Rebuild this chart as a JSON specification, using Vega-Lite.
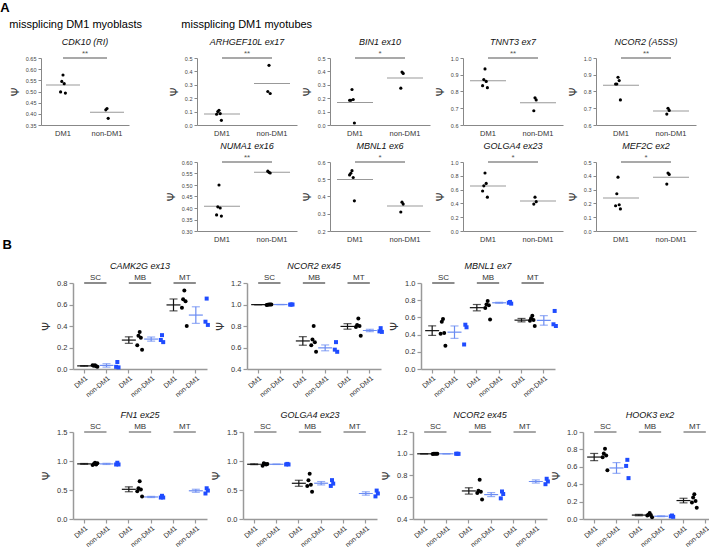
{
"$schema": "https://vega.github.io/schema/vega-lite/v6.json",
"padding": {"left": 0, "top": 2, "right": 2, "bottom": 2},
"background": "white",
"config": {"view": {"stroke": null}, "font": "Liberation Sans", "title": {"font": "Liberation Sans", "fontSize": 9, "fontStyle": "italic", "fontWeight": "normal", "color": "#111"}, "axis": {"labelOverlap": false}},
"datasets": {
"A": [
{"p":"CDK10","g":"DM1","r":1,"v":0.574},{"p":"CDK10","g":"DM1","r":2,"v":0.545},{"p":"CDK10","g":"DM1","r":3,"v":0.535},{"p":"CDK10","g":"DM1","r":4,"v":0.498},{"p":"CDK10","g":"DM1","r":5,"v":0.493},
{"p":"CDK10","g":"non-DM1","r":1,"v":0.424},{"p":"CDK10","g":"non-DM1","r":2,"v":0.418},{"p":"CDK10","g":"non-DM1","r":3,"v":0.38},
{"p":"ARHGEF10L","g":"DM1","r":1,"v":0.11},{"p":"ARHGEF10L","g":"DM1","r":2,"v":0.1},{"p":"ARHGEF10L","g":"DM1","r":3,"v":0.085},{"p":"ARHGEF10L","g":"DM1","r":4,"v":0.08},{"p":"ARHGEF10L","g":"DM1","r":5,"v":0.035},
{"p":"ARHGEF10L","g":"non-DM1","r":1,"v":0.445},{"p":"ARHGEF10L","g":"non-DM1","r":2,"v":0.25},{"p":"ARHGEF10L","g":"non-DM1","r":3,"v":0.235},
{"p":"BIN1","g":"DM1","r":1,"v":0.265},{"p":"BIN1","g":"DM1","r":2,"v":0.185},{"p":"BIN1","g":"DM1","r":3,"v":0.19},{"p":"BIN1","g":"DM1","r":4,"v":0.185},{"p":"BIN1","g":"DM1","r":5,"v":0.015},
{"p":"BIN1","g":"non-DM1","r":1,"v":0.395},{"p":"BIN1","g":"non-DM1","r":2,"v":0.275},{"p":"BIN1","g":"non-DM1","r":3,"v":0.385},
{"p":"TNNT3","g":"DM1","r":1,"v":0.935},{"p":"TNNT3","g":"DM1","r":2,"v":0.871},{"p":"TNNT3","g":"DM1","r":3,"v":0.86},{"p":"TNNT3","g":"DM1","r":4,"v":0.835},{"p":"TNNT3","g":"DM1","r":5,"v":0.823},
{"p":"TNNT3","g":"non-DM1","r":1,"v":0.762},{"p":"TNNT3","g":"non-DM1","r":2,"v":0.685},{"p":"TNNT3","g":"non-DM1","r":3,"v":0.75},
{"p":"NCOR2","g":"DM1","r":1,"v":0.885},{"p":"NCOR2","g":"DM1","r":2,"v":0.845},{"p":"NCOR2","g":"DM1","r":3,"v":0.865},{"p":"NCOR2","g":"DM1","r":4,"v":0.845},{"p":"NCOR2","g":"DM1","r":5,"v":0.75},
{"p":"NCOR2","g":"non-DM1","r":1,"v":0.7},{"p":"NCOR2","g":"non-DM1","r":2,"v":0.665},{"p":"NCOR2","g":"non-DM1","r":3,"v":0.687},
{"p":"NUMA1","g":"DM1","r":1,"v":0.5},{"p":"NUMA1","g":"DM1","r":2,"v":0.405},{"p":"NUMA1","g":"DM1","r":3,"v":0.4},{"p":"NUMA1","g":"DM1","r":4,"v":0.37},{"p":"NUMA1","g":"DM1","r":5,"v":0.365},
{"p":"NUMA1","g":"non-DM1","r":1,"v":0.555},{"p":"NUMA1","g":"non-DM1","r":2,"v":0.56},{"p":"NUMA1","g":"non-DM1","r":3,"v":0.552},
{"p":"MBNL1","g":"DM1","r":1,"v":0.55},{"p":"MBNL1","g":"DM1","r":2,"v":0.535},{"p":"MBNL1","g":"DM1","r":3,"v":0.51},{"p":"MBNL1","g":"DM1","r":4,"v":0.525},{"p":"MBNL1","g":"DM1","r":5,"v":0.375},
{"p":"MBNL1","g":"non-DM1","r":1,"v":0.367},{"p":"MBNL1","g":"non-DM1","r":2,"v":0.31},{"p":"MBNL1","g":"non-DM1","r":3,"v":0.356},
{"p":"GOLGA4","g":"DM1","r":1,"v":0.84},{"p":"GOLGA4","g":"DM1","r":2,"v":0.655},{"p":"GOLGA4","g":"DM1","r":3,"v":0.69},{"p":"GOLGA4","g":"DM1","r":4,"v":0.58},{"p":"GOLGA4","g":"DM1","r":5,"v":0.49},
{"p":"GOLGA4","g":"non-DM1","r":1,"v":0.49},{"p":"GOLGA4","g":"non-DM1","r":2,"v":0.39},{"p":"GOLGA4","g":"non-DM1","r":3,"v":0.425},
{"p":"MEF2C","g":"DM1","r":1,"v":0.39},{"p":"MEF2C","g":"DM1","r":2,"v":0.27},{"p":"MEF2C","g":"DM1","r":3,"v":0.19},{"p":"MEF2C","g":"DM1","r":4,"v":0.183},{"p":"MEF2C","g":"DM1","r":5,"v":0.16},
{"p":"MEF2C","g":"non-DM1","r":1,"v":0.42},{"p":"MEF2C","g":"non-DM1","r":2,"v":0.34},{"p":"MEF2C","g":"non-DM1","r":3,"v":0.41}
],
"B": [
{"p":"CAMK2G","c":"SC|DM1","g":"DM1","r":1,"v":0.035},{"p":"CAMK2G","c":"SC|DM1","g":"DM1","r":2,"v":0.03},{"p":"CAMK2G","c":"SC|DM1","g":"DM1","r":3,"v":0.025},{"p":"CAMK2G","c":"SC|DM1","g":"DM1","r":4,"v":0.035},{"p":"CAMK2G","c":"SC|DM1","g":"DM1","r":5,"v":0.02},
{"p":"CAMK2G","c":"SC|non-DM1","g":"non-DM1","r":1,"v":0.065},{"p":"CAMK2G","c":"SC|non-DM1","g":"non-DM1","r":2,"v":0.02},{"p":"CAMK2G","c":"SC|non-DM1","g":"non-DM1","r":3,"v":0.015},
{"p":"CAMK2G","c":"MB|DM1","g":"DM1","r":1,"v":0.345},{"p":"CAMK2G","c":"MB|DM1","g":"DM1","r":2,"v":0.31},{"p":"CAMK2G","c":"MB|DM1","g":"DM1","r":3,"v":0.29},{"p":"CAMK2G","c":"MB|DM1","g":"DM1","r":4,"v":0.22},{"p":"CAMK2G","c":"MB|DM1","g":"DM1","r":5,"v":0.18},
{"p":"CAMK2G","c":"MB|non-DM1","g":"non-DM1","r":1,"v":0.315},{"p":"CAMK2G","c":"MB|non-DM1","g":"non-DM1","r":2,"v":0.27},{"p":"CAMK2G","c":"MB|non-DM1","g":"non-DM1","r":3,"v":0.25},
{"p":"CAMK2G","c":"MT|DM1","g":"DM1","r":1,"v":0.73},{"p":"CAMK2G","c":"MT|DM1","g":"DM1","r":2,"v":0.65},{"p":"CAMK2G","c":"MT|DM1","g":"DM1","r":3,"v":0.63},{"p":"CAMK2G","c":"MT|DM1","g":"DM1","r":4,"v":0.57},{"p":"CAMK2G","c":"MT|DM1","g":"DM1","r":5,"v":0.4},
{"p":"CAMK2G","c":"MT|non-DM1","g":"non-DM1","r":1,"v":0.655},{"p":"CAMK2G","c":"MT|non-DM1","g":"non-DM1","r":2,"v":0.44},{"p":"CAMK2G","c":"MT|non-DM1","g":"non-DM1","r":3,"v":0.41},
{"p":"NCOR2a","c":"SC|DM1","g":"DM1","r":1,"v":1.0},{"p":"NCOR2a","c":"SC|DM1","g":"DM1","r":2,"v":0.998},{"p":"NCOR2a","c":"SC|DM1","g":"DM1","r":3,"v":1.0},{"p":"NCOR2a","c":"SC|DM1","g":"DM1","r":4,"v":0.996},{"p":"NCOR2a","c":"SC|DM1","g":"DM1","r":5,"v":1.0},
{"p":"NCOR2a","c":"SC|non-DM1","g":"non-DM1","r":1,"v":1.0},{"p":"NCOR2a","c":"SC|non-DM1","g":"non-DM1","r":2,"v":0.999},{"p":"NCOR2a","c":"SC|non-DM1","g":"non-DM1","r":3,"v":1.0},
{"p":"NCOR2a","c":"MB|DM1","g":"DM1","r":1,"v":0.8},{"p":"NCOR2a","c":"MB|DM1","g":"DM1","r":2,"v":0.675},{"p":"NCOR2a","c":"MB|DM1","g":"DM1","r":3,"v":0.65},{"p":"NCOR2a","c":"MB|DM1","g":"DM1","r":4,"v":0.62},{"p":"NCOR2a","c":"MB|DM1","g":"DM1","r":5,"v":0.56},
{"p":"NCOR2a","c":"MB|non-DM1","g":"non-DM1","r":1,"v":0.65},{"p":"NCOR2a","c":"MB|non-DM1","g":"non-DM1","r":2,"v":0.58},{"p":"NCOR2a","c":"MB|non-DM1","g":"non-DM1","r":3,"v":0.56},
{"p":"NCOR2a","c":"MT|DM1","g":"DM1","r":1,"v":0.87},{"p":"NCOR2a","c":"MT|DM1","g":"DM1","r":2,"v":0.81},{"p":"NCOR2a","c":"MT|DM1","g":"DM1","r":3,"v":0.8},{"p":"NCOR2a","c":"MT|DM1","g":"DM1","r":4,"v":0.79},{"p":"NCOR2a","c":"MT|DM1","g":"DM1","r":5,"v":0.71},
{"p":"NCOR2a","c":"MT|non-DM1","g":"non-DM1","r":1,"v":0.78},{"p":"NCOR2a","c":"MT|non-DM1","g":"non-DM1","r":2,"v":0.75},{"p":"NCOR2a","c":"MT|non-DM1","g":"non-DM1","r":3,"v":0.745},
{"p":"MBNL1","c":"SC|DM1","g":"DM1","r":1,"v":0.58},{"p":"MBNL1","c":"SC|DM1","g":"DM1","r":2,"v":0.55},{"p":"MBNL1","c":"SC|DM1","g":"DM1","r":3,"v":0.42},{"p":"MBNL1","c":"SC|DM1","g":"DM1","r":4,"v":0.41},{"p":"MBNL1","c":"SC|DM1","g":"DM1","r":5,"v":0.27},
{"p":"MBNL1","c":"SC|non-DM1","g":"non-DM1","r":1,"v":0.515},{"p":"MBNL1","c":"SC|non-DM1","g":"non-DM1","r":2,"v":0.285},{"p":"MBNL1","c":"SC|non-DM1","g":"non-DM1","r":3,"v":0.485},
{"p":"MBNL1","c":"MB|DM1","g":"DM1","r":1,"v":0.79},{"p":"MBNL1","c":"MB|DM1","g":"DM1","r":2,"v":0.75},{"p":"MBNL1","c":"MB|DM1","g":"DM1","r":3,"v":0.74},{"p":"MBNL1","c":"MB|DM1","g":"DM1","r":4,"v":0.71},{"p":"MBNL1","c":"MB|DM1","g":"DM1","r":5,"v":0.575},
{"p":"MBNL1","c":"MB|non-DM1","g":"non-DM1","r":1,"v":0.78},{"p":"MBNL1","c":"MB|non-DM1","g":"non-DM1","r":2,"v":0.77},{"p":"MBNL1","c":"MB|non-DM1","g":"non-DM1","r":3,"v":0.76},
{"p":"MBNL1","c":"MT|DM1","g":"DM1","r":1,"v":0.62},{"p":"MBNL1","c":"MT|DM1","g":"DM1","r":2,"v":0.59},{"p":"MBNL1","c":"MT|DM1","g":"DM1","r":3,"v":0.57},{"p":"MBNL1","c":"MT|DM1","g":"DM1","r":4,"v":0.56},{"p":"MBNL1","c":"MT|DM1","g":"DM1","r":5,"v":0.5},
{"p":"MBNL1","c":"MT|non-DM1","g":"non-DM1","r":1,"v":0.675},{"p":"MBNL1","c":"MT|non-DM1","g":"non-DM1","r":2,"v":0.52},{"p":"MBNL1","c":"MT|non-DM1","g":"non-DM1","r":3,"v":0.5},
{"p":"FN1","c":"SC|DM1","g":"DM1","r":1,"v":0.97},{"p":"FN1","c":"SC|DM1","g":"DM1","r":2,"v":0.95},{"p":"FN1","c":"SC|DM1","g":"DM1","r":3,"v":0.94},{"p":"FN1","c":"SC|DM1","g":"DM1","r":4,"v":0.93},{"p":"FN1","c":"SC|DM1","g":"DM1","r":5,"v":0.96},
{"p":"FN1","c":"SC|non-DM1","g":"non-DM1","r":1,"v":0.97},{"p":"FN1","c":"SC|non-DM1","g":"non-DM1","r":2,"v":0.94},{"p":"FN1","c":"SC|non-DM1","g":"non-DM1","r":3,"v":0.94},
{"p":"FN1","c":"MB|DM1","g":"DM1","r":1,"v":0.65},{"p":"FN1","c":"MB|DM1","g":"DM1","r":2,"v":0.53},{"p":"FN1","c":"MB|DM1","g":"DM1","r":3,"v":0.51},{"p":"FN1","c":"MB|DM1","g":"DM1","r":4,"v":0.48},{"p":"FN1","c":"MB|DM1","g":"DM1","r":5,"v":0.39},
{"p":"FN1","c":"MB|non-DM1","g":"non-DM1","r":1,"v":0.4},{"p":"FN1","c":"MB|non-DM1","g":"non-DM1","r":2,"v":0.37},{"p":"FN1","c":"MB|non-DM1","g":"non-DM1","r":3,"v":0.37},
{"p":"FN1","c":"MT|non-DM1","g":"non-DM1","r":1,"v":0.53},{"p":"FN1","c":"MT|non-DM1","g":"non-DM1","r":2,"v":0.44},{"p":"FN1","c":"MT|non-DM1","g":"non-DM1","r":3,"v":0.49},
{"p":"GOLGA4","c":"SC|DM1","g":"DM1","r":1,"v":0.95},{"p":"GOLGA4","c":"SC|DM1","g":"DM1","r":2,"v":0.96},{"p":"GOLGA4","c":"SC|DM1","g":"DM1","r":3,"v":0.94},{"p":"GOLGA4","c":"SC|DM1","g":"DM1","r":4,"v":0.92},{"p":"GOLGA4","c":"SC|DM1","g":"DM1","r":5,"v":0.95},
{"p":"GOLGA4","c":"SC|non-DM1","g":"non-DM1","r":1,"v":0.95},{"p":"GOLGA4","c":"SC|non-DM1","g":"non-DM1","r":2,"v":0.94},{"p":"GOLGA4","c":"SC|non-DM1","g":"non-DM1","r":3,"v":0.94},
{"p":"GOLGA4","c":"MB|DM1","g":"DM1","r":1,"v":0.78},{"p":"GOLGA4","c":"MB|DM1","g":"DM1","r":2,"v":0.67},{"p":"GOLGA4","c":"MB|DM1","g":"DM1","r":3,"v":0.59},{"p":"GOLGA4","c":"MB|DM1","g":"DM1","r":4,"v":0.57},{"p":"GOLGA4","c":"MB|DM1","g":"DM1","r":5,"v":0.47},
{"p":"GOLGA4","c":"MB|non-DM1","g":"non-DM1","r":1,"v":0.67},{"p":"GOLGA4","c":"MB|non-DM1","g":"non-DM1","r":2,"v":0.57},{"p":"GOLGA4","c":"MB|non-DM1","g":"non-DM1","r":3,"v":0.61},
{"p":"GOLGA4","c":"MT|non-DM1","g":"non-DM1","r":1,"v":0.49},{"p":"GOLGA4","c":"MT|non-DM1","g":"non-DM1","r":2,"v":0.39},{"p":"GOLGA4","c":"MT|non-DM1","g":"non-DM1","r":3,"v":0.44},
{"p":"NCOR2b","c":"SC|DM1","g":"DM1","r":1,"v":1.0},{"p":"NCOR2b","c":"SC|DM1","g":"DM1","r":2,"v":0.999},{"p":"NCOR2b","c":"SC|DM1","g":"DM1","r":3,"v":1.0},{"p":"NCOR2b","c":"SC|DM1","g":"DM1","r":4,"v":0.998},{"p":"NCOR2b","c":"SC|DM1","g":"DM1","r":5,"v":1.0},
{"p":"NCOR2b","c":"SC|non-DM1","g":"non-DM1","r":1,"v":1.0},{"p":"NCOR2b","c":"SC|non-DM1","g":"non-DM1","r":2,"v":1.0},{"p":"NCOR2b","c":"SC|non-DM1","g":"non-DM1","r":3,"v":0.999},
{"p":"NCOR2b","c":"MB|DM1","g":"DM1","r":1,"v":0.76},{"p":"NCOR2b","c":"MB|DM1","g":"DM1","r":2,"v":0.66},{"p":"NCOR2b","c":"MB|DM1","g":"DM1","r":3,"v":0.65},{"p":"NCOR2b","c":"MB|DM1","g":"DM1","r":4,"v":0.64},{"p":"NCOR2b","c":"MB|DM1","g":"DM1","r":5,"v":0.58},
{"p":"NCOR2b","c":"MB|non-DM1","g":"non-DM1","r":1,"v":0.653},{"p":"NCOR2b","c":"MB|non-DM1","g":"non-DM1","r":2,"v":0.59},{"p":"NCOR2b","c":"MB|non-DM1","g":"non-DM1","r":3,"v":0.63},
{"p":"NCOR2b","c":"MT|non-DM1","g":"non-DM1","r":1,"v":0.77},{"p":"NCOR2b","c":"MT|non-DM1","g":"non-DM1","r":2,"v":0.72},{"p":"NCOR2b","c":"MT|non-DM1","g":"non-DM1","r":3,"v":0.745},
{"p":"HOOK3","c":"SC|DM1","g":"DM1","r":1,"v":0.807},{"p":"HOOK3","c":"SC|DM1","g":"DM1","r":2,"v":0.753},{"p":"HOOK3","c":"SC|DM1","g":"DM1","r":3,"v":0.73},{"p":"HOOK3","c":"SC|DM1","g":"DM1","r":4,"v":0.71},{"p":"HOOK3","c":"SC|DM1","g":"DM1","r":5,"v":0.56},
{"p":"HOOK3","c":"SC|non-DM1","g":"non-DM1","r":1,"v":0.68},{"p":"HOOK3","c":"SC|non-DM1","g":"non-DM1","r":2,"v":0.61},{"p":"HOOK3","c":"SC|non-DM1","g":"non-DM1","r":3,"v":0.47},
{"p":"HOOK3","c":"MB|DM1","g":"DM1","r":1,"v":0.07},{"p":"HOOK3","c":"MB|DM1","g":"DM1","r":2,"v":0.05},{"p":"HOOK3","c":"MB|DM1","g":"DM1","r":3,"v":0.045},{"p":"HOOK3","c":"MB|DM1","g":"DM1","r":4,"v":0.04},{"p":"HOOK3","c":"MB|DM1","g":"DM1","r":5,"v":0.02},
{"p":"HOOK3","c":"MB|non-DM1","g":"non-DM1","r":1,"v":0.04},{"p":"HOOK3","c":"MB|non-DM1","g":"non-DM1","r":2,"v":0.03},{"p":"HOOK3","c":"MB|non-DM1","g":"non-DM1","r":3,"v":0.025},
{"p":"HOOK3","c":"MT|DM1","g":"DM1","r":1,"v":0.285},{"p":"HOOK3","c":"MT|DM1","g":"DM1","r":2,"v":0.247},{"p":"HOOK3","c":"MT|DM1","g":"DM1","r":3,"v":0.208},{"p":"HOOK3","c":"MT|DM1","g":"DM1","r":4,"v":0.19},{"p":"HOOK3","c":"MT|DM1","g":"DM1","r":5,"v":0.13}
],
"H": [{"st":"SC","a":"SC|DM1","b":"SC|non-DM1"},{"st":"MB","a":"MB|DM1","b":"MB|non-DM1"},{"st":"MT","a":"MT|DM1","b":"MT|non-DM1"}]
},
"spacing": -4,
"vconcat": [
{
"title": {"text": "A", "anchor": "start", "fontSize": 13, "fontWeight": "bold", "fontStyle": "normal", "color": "#000", "offset": 4, "dx": -9},
"spacing": 23,
"hconcat": [
{
"title": {"text": "missplicing DM1 myoblasts", "anchor": "start", "fontSize": 11, "fontWeight": "normal", "fontStyle": "normal", "color": "#000", "offset": 8},
"vconcat": [
{"width": 88, "height": 67, "title": {"text": "CDK10 (RI)", "offset": 3},
"layer": [
{"data": {"name": "A"}, "transform": [{"filter": "datum.p == 'CDK10'"}], "mark": {"type": "tick", "color": "#999", "size": 34, "thickness": 1},
"encoding": {"x": {"field": "g", "type": "nominal", "title": null, "scale": {"domain": ["DM1", "non-DM1"], "paddingInner": 0, "paddingOuter": 0}, "axis": {"labelAngle": 0, "labelFontSize": 7.5, "labelColor": "#333", "ticks": false, "domainColor": "#888", "labelPadding": 4, "labelOverlap": false}},
"y": {"aggregate": "mean", "field": "v", "type": "quantitative", "title": "Ψ", "scale": {"domain": [0.35, 0.65], "nice": false, "zero": false}, "axis": {"titleFont": "DejaVu Sans", "titleFontSize": 11, "titleFontWeight": "normal", "titleColor": "#333", "titlePadding": 5, "labelFontSize": 5.5, "labelColor": "#444", "labelPadding": 2, "tickSize": 3, "tickColor": "#888", "domainColor": "#888", "grid": false, "labelOverlap": false, "values": [0.35, 0.4, 0.45, 0.5, 0.55, 0.6, 0.65], "format": ".2f"}}}},
{"data": {"name": "A"}, "transform": [{"filter": "datum.p == 'CDK10'"}], "mark": {"type": "circle", "color": "#000", "size": 10, "opacity": 1},
"encoding": {"x": {"field": "g", "type": "nominal", "title": null}, "xOffset": {"field": "r", "type": "nominal", "scale": {"type": "point", "range": [19, 25], "domain": [4, 2, 1, 3, 5]}}, "y": {"field": "v", "type": "quantitative", "title": "Ψ", "axis": {"titleFont": "DejaVu Sans", "titleFontSize": 11, "titleFontWeight": "normal", "titleColor": "#333", "titlePadding": 5, "labelFontSize": 5.5, "labelColor": "#444", "labelPadding": 2, "tickSize": 3, "tickColor": "#888", "domainColor": "#888", "grid": false, "labelOverlap": false, "values": [0.35, 0.4, 0.45, 0.5, 0.55, 0.6, 0.65], "format": ".2f"}}}},
{"data": {"values": [{"a": "DM1", "b": "non-DM1", "s": "**"}]}, "mark": {"type": "rule", "color": "#555", "strokeWidth": 1.2},
"encoding": {"x": {"field": "a", "type": "nominal", "title": null}, "x2": {"field": "b"}, "y": {"datum": 0.65, "title": "Ψ", "axis": {"titleFont": "DejaVu Sans", "titleFontSize": 11, "titleFontWeight": "normal", "titleColor": "#333", "titlePadding": 5, "labelFontSize": 5.5, "labelColor": "#444", "labelPadding": 2, "tickSize": 3, "tickColor": "#888", "domainColor": "#888", "grid": false, "labelOverlap": false, "values": [0.35, 0.4, 0.45, 0.5, 0.55, 0.6, 0.65], "format": ".2f"}}}},
{"data": {"values": [{"a": "DM1", "b": "non-DM1", "s": "**"}]}, "mark": {"type": "text", "fontSize": 8, "baseline": "bottom", "color": "#555", "dx": -22},
"encoding": {"x": {"field": "b", "type": "nominal", "title": null}, "y": {"datum": 0.65, "title": "Ψ", "axis": {"titleFont": "DejaVu Sans", "titleFontSize": 11, "titleFontWeight": "normal", "titleColor": "#333", "titlePadding": 5, "labelFontSize": 5.5, "labelColor": "#444", "labelPadding": 2, "tickSize": 3, "tickColor": "#888", "domainColor": "#888", "grid": false, "labelOverlap": false, "values": [0.35, 0.4, 0.45, 0.5, 0.55, 0.6, 0.65], "format": ".2f"}}, "text": {"field": "s"}}}
]}
]
},
{
"title": {"text": "missplicing DM1 myotubes", "anchor": "start", "fontSize": 11, "fontWeight": "normal", "fontStyle": "normal", "color": "#000", "offset": 8, "dx": 16},
"spacing": 5,
"vconcat": [
{"bounds": "flush", "spacing": 33, "hconcat": [
{"width": 100, "height": 67, "title": {"text": "ARHGEF10L ex17", "offset": 3},
"layer": [
{"data": {"name": "A"}, "transform": [{"filter": "datum.p == 'ARHGEF10L'"}], "mark": {"type": "tick", "color": "#999", "size": 36, "thickness": 1},
"encoding": {"x": {"field": "g", "type": "nominal", "title": null, "scale": {"domain": ["DM1", "non-DM1"], "paddingInner": 0, "paddingOuter": 0}, "axis": {"labelAngle": 0, "labelFontSize": 7.5, "labelColor": "#333", "ticks": false, "domainColor": "#888", "labelPadding": 4, "labelOverlap": false}},
"y": {"aggregate": "mean", "field": "v", "type": "quantitative", "title": "Ψ", "scale": {"domain": [0, 0.5], "nice": false, "zero": false}, "axis": {"titleFont": "DejaVu Sans", "titleFontSize": 11, "titleFontWeight": "normal", "titleColor": "#333", "titlePadding": 5, "labelFontSize": 5.5, "labelColor": "#444", "labelPadding": 2, "tickSize": 3, "tickColor": "#888", "domainColor": "#888", "grid": false, "labelOverlap": false, "values": [0, 0.1, 0.2, 0.3, 0.4, 0.5], "format": ".1f"}}}},
{"data": {"name": "A"}, "transform": [{"filter": "datum.p == 'ARHGEF10L'"}], "mark": {"type": "circle", "color": "#000", "size": 10, "opacity": 1},
"encoding": {"x": {"field": "g", "type": "nominal", "title": null}, "xOffset": {"field": "r", "type": "nominal", "scale": {"type": "point", "range": [22, 28], "domain": [4, 2, 1, 3, 5]}}, "y": {"field": "v", "type": "quantitative", "title": "Ψ", "axis": {"titleFont": "DejaVu Sans", "titleFontSize": 11, "titleFontWeight": "normal", "titleColor": "#333", "titlePadding": 5, "labelFontSize": 5.5, "labelColor": "#444", "labelPadding": 2, "tickSize": 3, "tickColor": "#888", "domainColor": "#888", "grid": false, "labelOverlap": false, "values": [0, 0.1, 0.2, 0.3, 0.4, 0.5], "format": ".1f"}}}},
{"data": {"values": [{"a": "DM1", "b": "non-DM1", "s": "**"}]}, "mark": {"type": "rule", "color": "#555", "strokeWidth": 1.2},
"encoding": {"x": {"field": "a", "type": "nominal", "title": null}, "x2": {"field": "b"}, "y": {"datum": 0.5, "title": "Ψ", "axis": {"titleFont": "DejaVu Sans", "titleFontSize": 11, "titleFontWeight": "normal", "titleColor": "#333", "titlePadding": 5, "labelFontSize": 5.5, "labelColor": "#444", "labelPadding": 2, "tickSize": 3, "tickColor": "#888", "domainColor": "#888", "grid": false, "labelOverlap": false, "values": [0, 0.1, 0.2, 0.3, 0.4, 0.5], "format": ".1f"}}}},
{"data": {"values": [{"a": "DM1", "b": "non-DM1", "s": "**"}]}, "mark": {"type": "text", "fontSize": 8, "baseline": "bottom", "color": "#555", "dx": -25},
"encoding": {"x": {"field": "b", "type": "nominal", "title": null}, "y": {"datum": 0.5, "title": "Ψ", "axis": {"titleFont": "DejaVu Sans", "titleFontSize": 11, "titleFontWeight": "normal", "titleColor": "#333", "titlePadding": 5, "labelFontSize": 5.5, "labelColor": "#444", "labelPadding": 2, "tickSize": 3, "tickColor": "#888", "domainColor": "#888", "grid": false, "labelOverlap": false, "values": [0, 0.1, 0.2, 0.3, 0.4, 0.5], "format": ".1f"}}, "text": {"field": "s"}}}
]},
{"width": 100, "height": 67, "title": {"text": "BIN1 ex10", "offset": 3},
"layer": [
{"data": {"name": "A"}, "transform": [{"filter": "datum.p == 'BIN1'"}], "mark": {"type": "tick", "color": "#999", "size": 36, "thickness": 1},
"encoding": {"x": {"field": "g", "type": "nominal", "title": null, "scale": {"domain": ["DM1", "non-DM1"], "paddingInner": 0, "paddingOuter": 0}, "axis": {"labelAngle": 0, "labelFontSize": 7.5, "labelColor": "#333", "ticks": false, "domainColor": "#888", "labelPadding": 4, "labelOverlap": false}},
"y": {"aggregate": "mean", "field": "v", "type": "quantitative", "title": "Ψ", "scale": {"domain": [0, 0.5], "nice": false, "zero": false}, "axis": {"titleFont": "DejaVu Sans", "titleFontSize": 11, "titleFontWeight": "normal", "titleColor": "#333", "titlePadding": 5, "labelFontSize": 5.5, "labelColor": "#444", "labelPadding": 2, "tickSize": 3, "tickColor": "#888", "domainColor": "#888", "grid": false, "labelOverlap": false, "values": [0, 0.1, 0.2, 0.3, 0.4, 0.5], "format": ".1f"}}}},
{"data": {"name": "A"}, "transform": [{"filter": "datum.p == 'BIN1'"}], "mark": {"type": "circle", "color": "#000", "size": 10, "opacity": 1},
"encoding": {"x": {"field": "g", "type": "nominal", "title": null}, "xOffset": {"field": "r", "type": "nominal", "scale": {"type": "point", "range": [22, 28], "domain": [4, 2, 1, 3, 5]}}, "y": {"field": "v", "type": "quantitative", "title": "Ψ", "axis": {"titleFont": "DejaVu Sans", "titleFontSize": 11, "titleFontWeight": "normal", "titleColor": "#333", "titlePadding": 5, "labelFontSize": 5.5, "labelColor": "#444", "labelPadding": 2, "tickSize": 3, "tickColor": "#888", "domainColor": "#888", "grid": false, "labelOverlap": false, "values": [0, 0.1, 0.2, 0.3, 0.4, 0.5], "format": ".1f"}}}},
{"data": {"values": [{"a": "DM1", "b": "non-DM1", "s": "*"}]}, "mark": {"type": "rule", "color": "#555", "strokeWidth": 1.2},
"encoding": {"x": {"field": "a", "type": "nominal", "title": null}, "x2": {"field": "b"}, "y": {"datum": 0.5, "title": "Ψ", "axis": {"titleFont": "DejaVu Sans", "titleFontSize": 11, "titleFontWeight": "normal", "titleColor": "#333", "titlePadding": 5, "labelFontSize": 5.5, "labelColor": "#444", "labelPadding": 2, "tickSize": 3, "tickColor": "#888", "domainColor": "#888", "grid": false, "labelOverlap": false, "values": [0, 0.1, 0.2, 0.3, 0.4, 0.5], "format": ".1f"}}}},
{"data": {"values": [{"a": "DM1", "b": "non-DM1", "s": "*"}]}, "mark": {"type": "text", "fontSize": 8, "baseline": "bottom", "color": "#555", "dx": -25},
"encoding": {"x": {"field": "b", "type": "nominal", "title": null}, "y": {"datum": 0.5, "title": "Ψ", "axis": {"titleFont": "DejaVu Sans", "titleFontSize": 11, "titleFontWeight": "normal", "titleColor": "#333", "titlePadding": 5, "labelFontSize": 5.5, "labelColor": "#444", "labelPadding": 2, "tickSize": 3, "tickColor": "#888", "domainColor": "#888", "grid": false, "labelOverlap": false, "values": [0, 0.1, 0.2, 0.3, 0.4, 0.5], "format": ".1f"}}, "text": {"field": "s"}}}
]},
{"width": 100, "height": 67, "title": {"text": "TNNT3 ex7", "offset": 3},
"layer": [
{"data": {"name": "A"}, "transform": [{"filter": "datum.p == 'TNNT3'"}], "mark": {"type": "tick", "color": "#999", "size": 36, "thickness": 1},
"encoding": {"x": {"field": "g", "type": "nominal", "title": null, "scale": {"domain": ["DM1", "non-DM1"], "paddingInner": 0, "paddingOuter": 0}, "axis": {"labelAngle": 0, "labelFontSize": 7.5, "labelColor": "#333", "ticks": false, "domainColor": "#888", "labelPadding": 4, "labelOverlap": false}},
"y": {"aggregate": "mean", "field": "v", "type": "quantitative", "title": "Ψ", "scale": {"domain": [0.6, 1.0], "nice": false, "zero": false}, "axis": {"titleFont": "DejaVu Sans", "titleFontSize": 11, "titleFontWeight": "normal", "titleColor": "#333", "titlePadding": 5, "labelFontSize": 5.5, "labelColor": "#444", "labelPadding": 2, "tickSize": 3, "tickColor": "#888", "domainColor": "#888", "grid": false, "labelOverlap": false, "values": [0.6, 0.7, 0.8, 0.9, 1.0], "format": ".1f"}}}},
{"data": {"name": "A"}, "transform": [{"filter": "datum.p == 'TNNT3'"}], "mark": {"type": "circle", "color": "#000", "size": 10, "opacity": 1},
"encoding": {"x": {"field": "g", "type": "nominal", "title": null}, "xOffset": {"field": "r", "type": "nominal", "scale": {"type": "point", "range": [22, 28], "domain": [4, 2, 1, 3, 5]}}, "y": {"field": "v", "type": "quantitative", "title": "Ψ", "axis": {"titleFont": "DejaVu Sans", "titleFontSize": 11, "titleFontWeight": "normal", "titleColor": "#333", "titlePadding": 5, "labelFontSize": 5.5, "labelColor": "#444", "labelPadding": 2, "tickSize": 3, "tickColor": "#888", "domainColor": "#888", "grid": false, "labelOverlap": false, "values": [0.6, 0.7, 0.8, 0.9, 1.0], "format": ".1f"}}}},
{"data": {"values": [{"a": "DM1", "b": "non-DM1", "s": "**"}]}, "mark": {"type": "rule", "color": "#555", "strokeWidth": 1.2},
"encoding": {"x": {"field": "a", "type": "nominal", "title": null}, "x2": {"field": "b"}, "y": {"datum": 1.0, "title": "Ψ", "axis": {"titleFont": "DejaVu Sans", "titleFontSize": 11, "titleFontWeight": "normal", "titleColor": "#333", "titlePadding": 5, "labelFontSize": 5.5, "labelColor": "#444", "labelPadding": 2, "tickSize": 3, "tickColor": "#888", "domainColor": "#888", "grid": false, "labelOverlap": false, "values": [0.6, 0.7, 0.8, 0.9, 1.0], "format": ".1f"}}}},
{"data": {"values": [{"a": "DM1", "b": "non-DM1", "s": "**"}]}, "mark": {"type": "text", "fontSize": 8, "baseline": "bottom", "color": "#555", "dx": -25},
"encoding": {"x": {"field": "b", "type": "nominal", "title": null}, "y": {"datum": 1.0, "title": "Ψ", "axis": {"titleFont": "DejaVu Sans", "titleFontSize": 11, "titleFontWeight": "normal", "titleColor": "#333", "titlePadding": 5, "labelFontSize": 5.5, "labelColor": "#444", "labelPadding": 2, "tickSize": 3, "tickColor": "#888", "domainColor": "#888", "grid": false, "labelOverlap": false, "values": [0.6, 0.7, 0.8, 0.9, 1.0], "format": ".1f"}}, "text": {"field": "s"}}}
]},
{"width": 100, "height": 67, "title": {"text": "NCOR2 (A5SS)", "offset": 3},
"layer": [
{"data": {"name": "A"}, "transform": [{"filter": "datum.p == 'NCOR2'"}], "mark": {"type": "tick", "color": "#999", "size": 36, "thickness": 1},
"encoding": {"x": {"field": "g", "type": "nominal", "title": null, "scale": {"domain": ["DM1", "non-DM1"], "paddingInner": 0, "paddingOuter": 0}, "axis": {"labelAngle": 0, "labelFontSize": 7.5, "labelColor": "#333", "ticks": false, "domainColor": "#888", "labelPadding": 4, "labelOverlap": false}},
"y": {"aggregate": "mean", "field": "v", "type": "quantitative", "title": "Ψ", "scale": {"domain": [0.6, 1.0], "nice": false, "zero": false}, "axis": {"titleFont": "DejaVu Sans", "titleFontSize": 11, "titleFontWeight": "normal", "titleColor": "#333", "titlePadding": 5, "labelFontSize": 5.5, "labelColor": "#444", "labelPadding": 2, "tickSize": 3, "tickColor": "#888", "domainColor": "#888", "grid": false, "labelOverlap": false, "values": [0.6, 0.7, 0.8, 0.9, 1.0], "format": ".1f"}}}},
{"data": {"name": "A"}, "transform": [{"filter": "datum.p == 'NCOR2'"}], "mark": {"type": "circle", "color": "#000", "size": 10, "opacity": 1},
"encoding": {"x": {"field": "g", "type": "nominal", "title": null}, "xOffset": {"field": "r", "type": "nominal", "scale": {"type": "point", "range": [22, 28], "domain": [4, 2, 1, 3, 5]}}, "y": {"field": "v", "type": "quantitative", "title": "Ψ", "axis": {"titleFont": "DejaVu Sans", "titleFontSize": 11, "titleFontWeight": "normal", "titleColor": "#333", "titlePadding": 5, "labelFontSize": 5.5, "labelColor": "#444", "labelPadding": 2, "tickSize": 3, "tickColor": "#888", "domainColor": "#888", "grid": false, "labelOverlap": false, "values": [0.6, 0.7, 0.8, 0.9, 1.0], "format": ".1f"}}}},
{"data": {"values": [{"a": "DM1", "b": "non-DM1", "s": "**"}]}, "mark": {"type": "rule", "color": "#555", "strokeWidth": 1.2},
"encoding": {"x": {"field": "a", "type": "nominal", "title": null}, "x2": {"field": "b"}, "y": {"datum": 1.0, "title": "Ψ", "axis": {"titleFont": "DejaVu Sans", "titleFontSize": 11, "titleFontWeight": "normal", "titleColor": "#333", "titlePadding": 5, "labelFontSize": 5.5, "labelColor": "#444", "labelPadding": 2, "tickSize": 3, "tickColor": "#888", "domainColor": "#888", "grid": false, "labelOverlap": false, "values": [0.6, 0.7, 0.8, 0.9, 1.0], "format": ".1f"}}}},
{"data": {"values": [{"a": "DM1", "b": "non-DM1", "s": "**"}]}, "mark": {"type": "text", "fontSize": 8, "baseline": "bottom", "color": "#555", "dx": -25},
"encoding": {"x": {"field": "b", "type": "nominal", "title": null}, "y": {"datum": 1.0, "title": "Ψ", "axis": {"titleFont": "DejaVu Sans", "titleFontSize": 11, "titleFontWeight": "normal", "titleColor": "#333", "titlePadding": 5, "labelFontSize": 5.5, "labelColor": "#444", "labelPadding": 2, "tickSize": 3, "tickColor": "#888", "domainColor": "#888", "grid": false, "labelOverlap": false, "values": [0.6, 0.7, 0.8, 0.9, 1.0], "format": ".1f"}}, "text": {"field": "s"}}}
]}
]},
{"bounds": "flush", "spacing": 33, "hconcat": [
{"width": 100, "height": 69, "title": {"text": "NUMA1 ex16", "offset": 3},
"layer": [
{"data": {"name": "A"}, "transform": [{"filter": "datum.p == 'NUMA1'"}], "mark": {"type": "tick", "color": "#999", "size": 36, "thickness": 1},
"encoding": {"x": {"field": "g", "type": "nominal", "title": null, "scale": {"domain": ["DM1", "non-DM1"], "paddingInner": 0, "paddingOuter": 0}, "axis": {"labelAngle": 0, "labelFontSize": 7.5, "labelColor": "#333", "ticks": false, "domainColor": "#888", "labelPadding": 4, "labelOverlap": false}},
"y": {"aggregate": "mean", "field": "v", "type": "quantitative", "title": "Ψ", "scale": {"domain": [0.3, 0.6], "nice": false, "zero": false}, "axis": {"titleFont": "DejaVu Sans", "titleFontSize": 11, "titleFontWeight": "normal", "titleColor": "#333", "titlePadding": 5, "labelFontSize": 5.5, "labelColor": "#444", "labelPadding": 2, "tickSize": 3, "tickColor": "#888", "domainColor": "#888", "grid": false, "labelOverlap": false, "values": [0.3, 0.35, 0.4, 0.45, 0.5, 0.55, 0.6], "format": ".2f"}}}},
{"data": {"name": "A"}, "transform": [{"filter": "datum.p == 'NUMA1'"}], "mark": {"type": "circle", "color": "#000", "size": 10, "opacity": 1},
"encoding": {"x": {"field": "g", "type": "nominal", "title": null}, "xOffset": {"field": "r", "type": "nominal", "scale": {"type": "point", "range": [22, 28], "domain": [4, 2, 1, 3, 5]}}, "y": {"field": "v", "type": "quantitative", "title": "Ψ", "axis": {"titleFont": "DejaVu Sans", "titleFontSize": 11, "titleFontWeight": "normal", "titleColor": "#333", "titlePadding": 5, "labelFontSize": 5.5, "labelColor": "#444", "labelPadding": 2, "tickSize": 3, "tickColor": "#888", "domainColor": "#888", "grid": false, "labelOverlap": false, "values": [0.3, 0.35, 0.4, 0.45, 0.5, 0.55, 0.6], "format": ".2f"}}}},
{"data": {"values": [{"a": "DM1", "b": "non-DM1", "s": "**"}]}, "mark": {"type": "rule", "color": "#555", "strokeWidth": 1.2},
"encoding": {"x": {"field": "a", "type": "nominal", "title": null}, "x2": {"field": "b"}, "y": {"datum": 0.6, "title": "Ψ", "axis": {"titleFont": "DejaVu Sans", "titleFontSize": 11, "titleFontWeight": "normal", "titleColor": "#333", "titlePadding": 5, "labelFontSize": 5.5, "labelColor": "#444", "labelPadding": 2, "tickSize": 3, "tickColor": "#888", "domainColor": "#888", "grid": false, "labelOverlap": false, "values": [0.3, 0.35, 0.4, 0.45, 0.5, 0.55, 0.6], "format": ".2f"}}}},
{"data": {"values": [{"a": "DM1", "b": "non-DM1", "s": "**"}]}, "mark": {"type": "text", "fontSize": 8, "baseline": "bottom", "color": "#555", "dx": -25},
"encoding": {"x": {"field": "b", "type": "nominal", "title": null}, "y": {"datum": 0.6, "title": "Ψ", "axis": {"titleFont": "DejaVu Sans", "titleFontSize": 11, "titleFontWeight": "normal", "titleColor": "#333", "titlePadding": 5, "labelFontSize": 5.5, "labelColor": "#444", "labelPadding": 2, "tickSize": 3, "tickColor": "#888", "domainColor": "#888", "grid": false, "labelOverlap": false, "values": [0.3, 0.35, 0.4, 0.45, 0.5, 0.55, 0.6], "format": ".2f"}}, "text": {"field": "s"}}}
]},
{"width": 100, "height": 69, "title": {"text": "MBNL1 ex6", "offset": 3},
"layer": [
{"data": {"name": "A"}, "transform": [{"filter": "datum.p == 'MBNL1'"}], "mark": {"type": "tick", "color": "#999", "size": 36, "thickness": 1},
"encoding": {"x": {"field": "g", "type": "nominal", "title": null, "scale": {"domain": ["DM1", "non-DM1"], "paddingInner": 0, "paddingOuter": 0}, "axis": {"labelAngle": 0, "labelFontSize": 7.5, "labelColor": "#333", "ticks": false, "domainColor": "#888", "labelPadding": 4, "labelOverlap": false}},
"y": {"aggregate": "mean", "field": "v", "type": "quantitative", "title": "Ψ", "scale": {"domain": [0.2, 0.6], "nice": false, "zero": false}, "axis": {"titleFont": "DejaVu Sans", "titleFontSize": 11, "titleFontWeight": "normal", "titleColor": "#333", "titlePadding": 5, "labelFontSize": 5.5, "labelColor": "#444", "labelPadding": 2, "tickSize": 3, "tickColor": "#888", "domainColor": "#888", "grid": false, "labelOverlap": false, "values": [0.2, 0.3, 0.4, 0.5, 0.6], "format": ".1f"}}}},
{"data": {"name": "A"}, "transform": [{"filter": "datum.p == 'MBNL1'"}], "mark": {"type": "circle", "color": "#000", "size": 10, "opacity": 1},
"encoding": {"x": {"field": "g", "type": "nominal", "title": null}, "xOffset": {"field": "r", "type": "nominal", "scale": {"type": "point", "range": [22, 28], "domain": [4, 2, 1, 3, 5]}}, "y": {"field": "v", "type": "quantitative", "title": "Ψ", "axis": {"titleFont": "DejaVu Sans", "titleFontSize": 11, "titleFontWeight": "normal", "titleColor": "#333", "titlePadding": 5, "labelFontSize": 5.5, "labelColor": "#444", "labelPadding": 2, "tickSize": 3, "tickColor": "#888", "domainColor": "#888", "grid": false, "labelOverlap": false, "values": [0.2, 0.3, 0.4, 0.5, 0.6], "format": ".1f"}}}},
{"data": {"values": [{"a": "DM1", "b": "non-DM1", "s": "*"}]}, "mark": {"type": "rule", "color": "#555", "strokeWidth": 1.2},
"encoding": {"x": {"field": "a", "type": "nominal", "title": null}, "x2": {"field": "b"}, "y": {"datum": 0.6, "title": "Ψ", "axis": {"titleFont": "DejaVu Sans", "titleFontSize": 11, "titleFontWeight": "normal", "titleColor": "#333", "titlePadding": 5, "labelFontSize": 5.5, "labelColor": "#444", "labelPadding": 2, "tickSize": 3, "tickColor": "#888", "domainColor": "#888", "grid": false, "labelOverlap": false, "values": [0.2, 0.3, 0.4, 0.5, 0.6], "format": ".1f"}}}},
{"data": {"values": [{"a": "DM1", "b": "non-DM1", "s": "*"}]}, "mark": {"type": "text", "fontSize": 8, "baseline": "bottom", "color": "#555", "dx": -25},
"encoding": {"x": {"field": "b", "type": "nominal", "title": null}, "y": {"datum": 0.6, "title": "Ψ", "axis": {"titleFont": "DejaVu Sans", "titleFontSize": 11, "titleFontWeight": "normal", "titleColor": "#333", "titlePadding": 5, "labelFontSize": 5.5, "labelColor": "#444", "labelPadding": 2, "tickSize": 3, "tickColor": "#888", "domainColor": "#888", "grid": false, "labelOverlap": false, "values": [0.2, 0.3, 0.4, 0.5, 0.6], "format": ".1f"}}, "text": {"field": "s"}}}
]},
{"width": 100, "height": 69, "title": {"text": "GOLGA4 ex23", "offset": 3},
"layer": [
{"data": {"name": "A"}, "transform": [{"filter": "datum.p == 'GOLGA4'"}], "mark": {"type": "tick", "color": "#999", "size": 36, "thickness": 1},
"encoding": {"x": {"field": "g", "type": "nominal", "title": null, "scale": {"domain": ["DM1", "non-DM1"], "paddingInner": 0, "paddingOuter": 0}, "axis": {"labelAngle": 0, "labelFontSize": 7.5, "labelColor": "#333", "ticks": false, "domainColor": "#888", "labelPadding": 4, "labelOverlap": false}},
"y": {"aggregate": "mean", "field": "v", "type": "quantitative", "title": "Ψ", "scale": {"domain": [0, 1.0], "nice": false, "zero": false}, "axis": {"titleFont": "DejaVu Sans", "titleFontSize": 11, "titleFontWeight": "normal", "titleColor": "#333", "titlePadding": 5, "labelFontSize": 5.5, "labelColor": "#444", "labelPadding": 2, "tickSize": 3, "tickColor": "#888", "domainColor": "#888", "grid": false, "labelOverlap": false, "values": [0, 0.2, 0.4, 0.6, 0.8, 1.0], "format": ".1f"}}}},
{"data": {"name": "A"}, "transform": [{"filter": "datum.p == 'GOLGA4'"}], "mark": {"type": "circle", "color": "#000", "size": 10, "opacity": 1},
"encoding": {"x": {"field": "g", "type": "nominal", "title": null}, "xOffset": {"field": "r", "type": "nominal", "scale": {"type": "point", "range": [22, 28], "domain": [4, 2, 1, 3, 5]}}, "y": {"field": "v", "type": "quantitative", "title": "Ψ", "axis": {"titleFont": "DejaVu Sans", "titleFontSize": 11, "titleFontWeight": "normal", "titleColor": "#333", "titlePadding": 5, "labelFontSize": 5.5, "labelColor": "#444", "labelPadding": 2, "tickSize": 3, "tickColor": "#888", "domainColor": "#888", "grid": false, "labelOverlap": false, "values": [0, 0.2, 0.4, 0.6, 0.8, 1.0], "format": ".1f"}}}},
{"data": {"values": [{"a": "DM1", "b": "non-DM1", "s": "*"}]}, "mark": {"type": "rule", "color": "#555", "strokeWidth": 1.2},
"encoding": {"x": {"field": "a", "type": "nominal", "title": null}, "x2": {"field": "b"}, "y": {"datum": 1.0, "title": "Ψ", "axis": {"titleFont": "DejaVu Sans", "titleFontSize": 11, "titleFontWeight": "normal", "titleColor": "#333", "titlePadding": 5, "labelFontSize": 5.5, "labelColor": "#444", "labelPadding": 2, "tickSize": 3, "tickColor": "#888", "domainColor": "#888", "grid": false, "labelOverlap": false, "values": [0, 0.2, 0.4, 0.6, 0.8, 1.0], "format": ".1f"}}}},
{"data": {"values": [{"a": "DM1", "b": "non-DM1", "s": "*"}]}, "mark": {"type": "text", "fontSize": 8, "baseline": "bottom", "color": "#555", "dx": -25},
"encoding": {"x": {"field": "b", "type": "nominal", "title": null}, "y": {"datum": 1.0, "title": "Ψ", "axis": {"titleFont": "DejaVu Sans", "titleFontSize": 11, "titleFontWeight": "normal", "titleColor": "#333", "titlePadding": 5, "labelFontSize": 5.5, "labelColor": "#444", "labelPadding": 2, "tickSize": 3, "tickColor": "#888", "domainColor": "#888", "grid": false, "labelOverlap": false, "values": [0, 0.2, 0.4, 0.6, 0.8, 1.0], "format": ".1f"}}, "text": {"field": "s"}}}
]},
{"width": 100, "height": 69, "title": {"text": "MEF2C ex2", "offset": 3},
"layer": [
{"data": {"name": "A"}, "transform": [{"filter": "datum.p == 'MEF2C'"}], "mark": {"type": "tick", "color": "#999", "size": 36, "thickness": 1},
"encoding": {"x": {"field": "g", "type": "nominal", "title": null, "scale": {"domain": ["DM1", "non-DM1"], "paddingInner": 0, "paddingOuter": 0}, "axis": {"labelAngle": 0, "labelFontSize": 7.5, "labelColor": "#333", "ticks": false, "domainColor": "#888", "labelPadding": 4, "labelOverlap": false}},
"y": {"aggregate": "mean", "field": "v", "type": "quantitative", "title": "Ψ", "scale": {"domain": [0, 0.5], "nice": false, "zero": false}, "axis": {"titleFont": "DejaVu Sans", "titleFontSize": 11, "titleFontWeight": "normal", "titleColor": "#333", "titlePadding": 5, "labelFontSize": 5.5, "labelColor": "#444", "labelPadding": 2, "tickSize": 3, "tickColor": "#888", "domainColor": "#888", "grid": false, "labelOverlap": false, "values": [0, 0.1, 0.2, 0.3, 0.4, 0.5], "format": ".1f"}}}},
{"data": {"name": "A"}, "transform": [{"filter": "datum.p == 'MEF2C'"}], "mark": {"type": "circle", "color": "#000", "size": 10, "opacity": 1},
"encoding": {"x": {"field": "g", "type": "nominal", "title": null}, "xOffset": {"field": "r", "type": "nominal", "scale": {"type": "point", "range": [22, 28], "domain": [4, 2, 1, 3, 5]}}, "y": {"field": "v", "type": "quantitative", "title": "Ψ", "axis": {"titleFont": "DejaVu Sans", "titleFontSize": 11, "titleFontWeight": "normal", "titleColor": "#333", "titlePadding": 5, "labelFontSize": 5.5, "labelColor": "#444", "labelPadding": 2, "tickSize": 3, "tickColor": "#888", "domainColor": "#888", "grid": false, "labelOverlap": false, "values": [0, 0.1, 0.2, 0.3, 0.4, 0.5], "format": ".1f"}}}},
{"data": {"values": [{"a": "DM1", "b": "non-DM1", "s": "*"}]}, "mark": {"type": "rule", "color": "#555", "strokeWidth": 1.2},
"encoding": {"x": {"field": "a", "type": "nominal", "title": null}, "x2": {"field": "b"}, "y": {"datum": 0.5, "title": "Ψ", "axis": {"titleFont": "DejaVu Sans", "titleFontSize": 11, "titleFontWeight": "normal", "titleColor": "#333", "titlePadding": 5, "labelFontSize": 5.5, "labelColor": "#444", "labelPadding": 2, "tickSize": 3, "tickColor": "#888", "domainColor": "#888", "grid": false, "labelOverlap": false, "values": [0, 0.1, 0.2, 0.3, 0.4, 0.5], "format": ".1f"}}}},
{"data": {"values": [{"a": "DM1", "b": "non-DM1", "s": "*"}]}, "mark": {"type": "text", "fontSize": 8, "baseline": "bottom", "color": "#555", "dx": -25},
"encoding": {"x": {"field": "b", "type": "nominal", "title": null}, "y": {"datum": 0.5, "title": "Ψ", "axis": {"titleFont": "DejaVu Sans", "titleFontSize": 11, "titleFontWeight": "normal", "titleColor": "#333", "titlePadding": 5, "labelFontSize": 5.5, "labelColor": "#444", "labelPadding": 2, "tickSize": 3, "tickColor": "#888", "domainColor": "#888", "grid": false, "labelOverlap": false, "values": [0, 0.1, 0.2, 0.3, 0.4, 0.5], "format": ".1f"}}, "text": {"field": "s"}}}
]}
]}
]
}
]
},
{
"title": {"text": "B", "anchor": "start", "fontSize": 13, "fontWeight": "bold", "fontStyle": "normal", "color": "#000", "offset": 10, "dx": -38},
"spacing": -2,
"hconcat": [
{"width": 1, "height": 1, "data": {"values": [{"s": ""}]}, "mark": {"type": "text"}, "encoding": {"text": {"field": "s"}}},
{"spacing": 13, "vconcat": [
{"bounds": "flush", "spacing": 40, "hconcat": [
{"width": 134, "height": 86, "title": {"text": "CAMK2G ex13", "offset": 3}, "resolve": {"scale": {"color": "independent"}},
"layer": [
{"data": {"name": "B"}, "transform": [{"filter": "datum.p == 'CAMK2G'"}], "mark": {"type": "errorbar", "extent": "stderr", "thickness": 1.2, "ticks": {"size": 8}},
"encoding": {"x": {"field": "c", "type": "nominal", "title": null, "scale": {"domain": ["SC|DM1", "SC|non-DM1", "MB|DM1", "MB|non-DM1", "MT|DM1", "MT|non-DM1"], "paddingInner": 0, "paddingOuter": 0}, "axis": {"labelAngle": -40, "labelFontSize": 7, "labelColor": "#333", "labelExpr": "split(datum.value, '|')[1]", "tickSize": 4, "tickColor": "#999", "tickWidth": 1.2, "domainColor": "#999", "domainWidth": 1.5, "labelPadding": 1, "labelOverlap": false}},
"y": {"field": "v", "type": "quantitative", "title": "Ψ", "scale": {"domain": [0, 0.8], "nice": false, "zero": false}, "axis": {"titleFont": "DejaVu Sans", "titleFontSize": 11, "titleFontWeight": "normal", "titleColor": "#333", "titlePadding": 5, "labelFontSize": 7.5, "labelColor": "#333", "labelPadding": 2, "tickSize": 4, "tickColor": "#999", "tickWidth": 1.2, "domainColor": "#999", "domainWidth": 1.5, "grid": false, "labelOverlap": false, "values": [0, 0.2, 0.4, 0.6, 0.8], "format": ".1f"}},
"color": {"field": "g", "type": "nominal", "scale": {"domain": ["DM1", "non-DM1"], "range": ["#111111", "#6b8cf2"]}, "legend": null}}},
{"data": {"name": "B"}, "transform": [{"filter": "datum.p == 'CAMK2G'"}], "mark": {"type": "tick", "size": 14, "thickness": 1.2},
"encoding": {"x": {"field": "c", "type": "nominal", "title": null}, "y": {"aggregate": "mean", "field": "v", "type": "quantitative", "title": "Ψ", "axis": {"titleFont": "DejaVu Sans", "titleFontSize": 11, "titleFontWeight": "normal", "titleColor": "#333", "titlePadding": 5, "labelFontSize": 7.5, "labelColor": "#333", "labelPadding": 2, "tickSize": 4, "tickColor": "#999", "tickWidth": 1.2, "domainColor": "#999", "domainWidth": 1.5, "grid": false, "labelOverlap": false, "values": [0, 0.2, 0.4, 0.6, 0.8], "format": ".1f"}}, "color": {"field": "g", "type": "nominal", "scale": {"domain": ["DM1", "non-DM1"], "range": ["#111111", "#6b8cf2"]}, "legend": null}}},
{"data": {"name": "B"}, "transform": [{"filter": "datum.p == 'CAMK2G'"}], "mark": {"type": "point", "filled": true, "size": 16, "opacity": 1},
"encoding": {"x": {"field": "c", "type": "nominal", "title": null}, "xOffset": {"field": "r", "type": "nominal", "scale": {"type": "point", "range": [5, 17.3], "domain": [4, 2, 1, 3, 5]}}, "y": {"field": "v", "type": "quantitative", "title": "Ψ", "axis": {"titleFont": "DejaVu Sans", "titleFontSize": 11, "titleFontWeight": "normal", "titleColor": "#333", "titlePadding": 5, "labelFontSize": 7.5, "labelColor": "#333", "labelPadding": 2, "tickSize": 4, "tickColor": "#999", "tickWidth": 1.2, "domainColor": "#999", "domainWidth": 1.5, "grid": false, "labelOverlap": false, "values": [0, 0.2, 0.4, 0.6, 0.8], "format": ".1f"}}, "color": {"field": "g", "type": "nominal", "scale": {"domain": ["DM1", "non-DM1"], "range": ["#000000", "#1f4cff"]}, "legend": null}, "shape": {"field": "g", "type": "nominal", "scale": {"domain": ["DM1", "non-DM1"], "range": ["circle", "square"]}, "legend": null}}},
{"data": {"name": "H"}, "mark": {"type": "rule", "strokeWidth": 1.5, "color": "#666"},
"encoding": {"x": {"field": "a", "type": "nominal", "title": null}, "x2": {"field": "b"}, "y": {"datum": 0.8, "title": "Ψ", "axis": {"titleFont": "DejaVu Sans", "titleFontSize": 11, "titleFontWeight": "normal", "titleColor": "#333", "titlePadding": 5, "labelFontSize": 7.5, "labelColor": "#333", "labelPadding": 2, "tickSize": 4, "tickColor": "#999", "tickWidth": 1.2, "domainColor": "#999", "domainWidth": 1.5, "grid": false, "labelOverlap": false, "values": [0, 0.2, 0.4, 0.6, 0.8], "format": ".1f"}}}},
{"data": {"name": "H"}, "mark": {"type": "text", "fontSize": 8, "baseline": "bottom", "dy": -1, "dx": -11, "color": "#333"},
"encoding": {"x": {"field": "b", "type": "nominal", "title": null}, "y": {"datum": 0.8, "title": "Ψ", "axis": {"titleFont": "DejaVu Sans", "titleFontSize": 11, "titleFontWeight": "normal", "titleColor": "#333", "titlePadding": 5, "labelFontSize": 7.5, "labelColor": "#333", "labelPadding": 2, "tickSize": 4, "tickColor": "#999", "tickWidth": 1.2, "domainColor": "#999", "domainWidth": 1.5, "grid": false, "labelOverlap": false, "values": [0, 0.2, 0.4, 0.6, 0.8], "format": ".1f"}}, "text": {"field": "st"}}}
]},
{"width": 134, "height": 86, "title": {"text": "NCOR2 ex45", "offset": 3}, "resolve": {"scale": {"color": "independent"}},
"layer": [
{"data": {"name": "B"}, "transform": [{"filter": "datum.p == 'NCOR2a'"}], "mark": {"type": "errorbar", "extent": "stderr", "thickness": 1.2, "ticks": {"size": 8}},
"encoding": {"x": {"field": "c", "type": "nominal", "title": null, "scale": {"domain": ["SC|DM1", "SC|non-DM1", "MB|DM1", "MB|non-DM1", "MT|DM1", "MT|non-DM1"], "paddingInner": 0, "paddingOuter": 0}, "axis": {"labelAngle": -40, "labelFontSize": 7, "labelColor": "#333", "labelExpr": "split(datum.value, '|')[1]", "tickSize": 4, "tickColor": "#999", "tickWidth": 1.2, "domainColor": "#999", "domainWidth": 1.5, "labelPadding": 1, "labelOverlap": false}},
"y": {"field": "v", "type": "quantitative", "title": "Ψ", "scale": {"domain": [0.4, 1.2], "nice": false, "zero": false}, "axis": {"titleFont": "DejaVu Sans", "titleFontSize": 11, "titleFontWeight": "normal", "titleColor": "#333", "titlePadding": 5, "labelFontSize": 7.5, "labelColor": "#333", "labelPadding": 2, "tickSize": 4, "tickColor": "#999", "tickWidth": 1.2, "domainColor": "#999", "domainWidth": 1.5, "grid": false, "labelOverlap": false, "values": [0.4, 0.6, 0.8, 1.0, 1.2], "format": ".1f"}},
"color": {"field": "g", "type": "nominal", "scale": {"domain": ["DM1", "non-DM1"], "range": ["#111111", "#6b8cf2"]}, "legend": null}}},
{"data": {"name": "B"}, "transform": [{"filter": "datum.p == 'NCOR2a'"}], "mark": {"type": "tick", "size": 14, "thickness": 1.2},
"encoding": {"x": {"field": "c", "type": "nominal", "title": null}, "y": {"aggregate": "mean", "field": "v", "type": "quantitative", "title": "Ψ", "axis": {"titleFont": "DejaVu Sans", "titleFontSize": 11, "titleFontWeight": "normal", "titleColor": "#333", "titlePadding": 5, "labelFontSize": 7.5, "labelColor": "#333", "labelPadding": 2, "tickSize": 4, "tickColor": "#999", "tickWidth": 1.2, "domainColor": "#999", "domainWidth": 1.5, "grid": false, "labelOverlap": false, "values": [0.4, 0.6, 0.8, 1.0, 1.2], "format": ".1f"}}, "color": {"field": "g", "type": "nominal", "scale": {"domain": ["DM1", "non-DM1"], "range": ["#111111", "#6b8cf2"]}, "legend": null}}},
{"data": {"name": "B"}, "transform": [{"filter": "datum.p == 'NCOR2a'"}], "mark": {"type": "point", "filled": true, "size": 16, "opacity": 1},
"encoding": {"x": {"field": "c", "type": "nominal", "title": null}, "xOffset": {"field": "r", "type": "nominal", "scale": {"type": "point", "range": [5, 17.3], "domain": [4, 2, 1, 3, 5]}}, "y": {"field": "v", "type": "quantitative", "title": "Ψ", "axis": {"titleFont": "DejaVu Sans", "titleFontSize": 11, "titleFontWeight": "normal", "titleColor": "#333", "titlePadding": 5, "labelFontSize": 7.5, "labelColor": "#333", "labelPadding": 2, "tickSize": 4, "tickColor": "#999", "tickWidth": 1.2, "domainColor": "#999", "domainWidth": 1.5, "grid": false, "labelOverlap": false, "values": [0.4, 0.6, 0.8, 1.0, 1.2], "format": ".1f"}}, "color": {"field": "g", "type": "nominal", "scale": {"domain": ["DM1", "non-DM1"], "range": ["#000000", "#1f4cff"]}, "legend": null}, "shape": {"field": "g", "type": "nominal", "scale": {"domain": ["DM1", "non-DM1"], "range": ["circle", "square"]}, "legend": null}}},
{"data": {"name": "H"}, "mark": {"type": "rule", "strokeWidth": 1.5, "color": "#666"},
"encoding": {"x": {"field": "a", "type": "nominal", "title": null}, "x2": {"field": "b"}, "y": {"datum": 1.2, "title": "Ψ", "axis": {"titleFont": "DejaVu Sans", "titleFontSize": 11, "titleFontWeight": "normal", "titleColor": "#333", "titlePadding": 5, "labelFontSize": 7.5, "labelColor": "#333", "labelPadding": 2, "tickSize": 4, "tickColor": "#999", "tickWidth": 1.2, "domainColor": "#999", "domainWidth": 1.5, "grid": false, "labelOverlap": false, "values": [0.4, 0.6, 0.8, 1.0, 1.2], "format": ".1f"}}}},
{"data": {"name": "H"}, "mark": {"type": "text", "fontSize": 8, "baseline": "bottom", "dy": -1, "dx": -11, "color": "#333"},
"encoding": {"x": {"field": "b", "type": "nominal", "title": null}, "y": {"datum": 1.2, "title": "Ψ", "axis": {"titleFont": "DejaVu Sans", "titleFontSize": 11, "titleFontWeight": "normal", "titleColor": "#333", "titlePadding": 5, "labelFontSize": 7.5, "labelColor": "#333", "labelPadding": 2, "tickSize": 4, "tickColor": "#999", "tickWidth": 1.2, "domainColor": "#999", "domainWidth": 1.5, "grid": false, "labelOverlap": false, "values": [0.4, 0.6, 0.8, 1.0, 1.2], "format": ".1f"}}, "text": {"field": "st"}}}
]},
{"width": 134, "height": 86, "title": {"text": "MBNL1 ex7", "offset": 3}, "resolve": {"scale": {"color": "independent"}},
"layer": [
{"data": {"name": "B"}, "transform": [{"filter": "datum.p == 'MBNL1'"}], "mark": {"type": "errorbar", "extent": "stderr", "thickness": 1.2, "ticks": {"size": 8}},
"encoding": {"x": {"field": "c", "type": "nominal", "title": null, "scale": {"domain": ["SC|DM1", "SC|non-DM1", "MB|DM1", "MB|non-DM1", "MT|DM1", "MT|non-DM1"], "paddingInner": 0, "paddingOuter": 0}, "axis": {"labelAngle": -40, "labelFontSize": 7, "labelColor": "#333", "labelExpr": "split(datum.value, '|')[1]", "tickSize": 4, "tickColor": "#999", "tickWidth": 1.2, "domainColor": "#999", "domainWidth": 1.5, "labelPadding": 1, "labelOverlap": false}},
"y": {"field": "v", "type": "quantitative", "title": "Ψ", "scale": {"domain": [0, 1.0], "nice": false, "zero": false}, "axis": {"titleFont": "DejaVu Sans", "titleFontSize": 11, "titleFontWeight": "normal", "titleColor": "#333", "titlePadding": 5, "labelFontSize": 7.5, "labelColor": "#333", "labelPadding": 2, "tickSize": 4, "tickColor": "#999", "tickWidth": 1.2, "domainColor": "#999", "domainWidth": 1.5, "grid": false, "labelOverlap": false, "values": [0, 0.2, 0.4, 0.6, 0.8, 1.0], "format": ".1f"}},
"color": {"field": "g", "type": "nominal", "scale": {"domain": ["DM1", "non-DM1"], "range": ["#111111", "#6b8cf2"]}, "legend": null}}},
{"data": {"name": "B"}, "transform": [{"filter": "datum.p == 'MBNL1'"}], "mark": {"type": "tick", "size": 14, "thickness": 1.2},
"encoding": {"x": {"field": "c", "type": "nominal", "title": null}, "y": {"aggregate": "mean", "field": "v", "type": "quantitative", "title": "Ψ", "axis": {"titleFont": "DejaVu Sans", "titleFontSize": 11, "titleFontWeight": "normal", "titleColor": "#333", "titlePadding": 5, "labelFontSize": 7.5, "labelColor": "#333", "labelPadding": 2, "tickSize": 4, "tickColor": "#999", "tickWidth": 1.2, "domainColor": "#999", "domainWidth": 1.5, "grid": false, "labelOverlap": false, "values": [0, 0.2, 0.4, 0.6, 0.8, 1.0], "format": ".1f"}}, "color": {"field": "g", "type": "nominal", "scale": {"domain": ["DM1", "non-DM1"], "range": ["#111111", "#6b8cf2"]}, "legend": null}}},
{"data": {"name": "B"}, "transform": [{"filter": "datum.p == 'MBNL1'"}], "mark": {"type": "point", "filled": true, "size": 16, "opacity": 1},
"encoding": {"x": {"field": "c", "type": "nominal", "title": null}, "xOffset": {"field": "r", "type": "nominal", "scale": {"type": "point", "range": [5, 17.3], "domain": [4, 2, 1, 3, 5]}}, "y": {"field": "v", "type": "quantitative", "title": "Ψ", "axis": {"titleFont": "DejaVu Sans", "titleFontSize": 11, "titleFontWeight": "normal", "titleColor": "#333", "titlePadding": 5, "labelFontSize": 7.5, "labelColor": "#333", "labelPadding": 2, "tickSize": 4, "tickColor": "#999", "tickWidth": 1.2, "domainColor": "#999", "domainWidth": 1.5, "grid": false, "labelOverlap": false, "values": [0, 0.2, 0.4, 0.6, 0.8, 1.0], "format": ".1f"}}, "color": {"field": "g", "type": "nominal", "scale": {"domain": ["DM1", "non-DM1"], "range": ["#000000", "#1f4cff"]}, "legend": null}, "shape": {"field": "g", "type": "nominal", "scale": {"domain": ["DM1", "non-DM1"], "range": ["circle", "square"]}, "legend": null}}},
{"data": {"name": "H"}, "mark": {"type": "rule", "strokeWidth": 1.5, "color": "#666"},
"encoding": {"x": {"field": "a", "type": "nominal", "title": null}, "x2": {"field": "b"}, "y": {"datum": 1.0, "title": "Ψ", "axis": {"titleFont": "DejaVu Sans", "titleFontSize": 11, "titleFontWeight": "normal", "titleColor": "#333", "titlePadding": 5, "labelFontSize": 7.5, "labelColor": "#333", "labelPadding": 2, "tickSize": 4, "tickColor": "#999", "tickWidth": 1.2, "domainColor": "#999", "domainWidth": 1.5, "grid": false, "labelOverlap": false, "values": [0, 0.2, 0.4, 0.6, 0.8, 1.0], "format": ".1f"}}}},
{"data": {"name": "H"}, "mark": {"type": "text", "fontSize": 8, "baseline": "bottom", "dy": -1, "dx": -11, "color": "#333"},
"encoding": {"x": {"field": "b", "type": "nominal", "title": null}, "y": {"datum": 1.0, "title": "Ψ", "axis": {"titleFont": "DejaVu Sans", "titleFontSize": 11, "titleFontWeight": "normal", "titleColor": "#333", "titlePadding": 5, "labelFontSize": 7.5, "labelColor": "#333", "labelPadding": 2, "tickSize": 4, "tickColor": "#999", "tickWidth": 1.2, "domainColor": "#999", "domainWidth": 1.5, "grid": false, "labelOverlap": false, "values": [0, 0.2, 0.4, 0.6, 0.8, 1.0], "format": ".1f"}}, "text": {"field": "st"}}}
]}
]},
{"bounds": "flush", "spacing": 36, "hconcat": [
{"width": 134, "height": 87, "title": {"text": "FN1 ex25", "offset": 3}, "resolve": {"scale": {"color": "independent"}},
"layer": [
{"data": {"name": "B"}, "transform": [{"filter": "datum.p == 'FN1'"}], "mark": {"type": "errorbar", "extent": "stderr", "thickness": 1.2, "ticks": {"size": 8}},
"encoding": {"x": {"field": "c", "type": "nominal", "title": null, "scale": {"domain": ["SC|DM1", "SC|non-DM1", "MB|DM1", "MB|non-DM1", "MT|DM1", "MT|non-DM1"], "paddingInner": 0, "paddingOuter": 0}, "axis": {"labelAngle": -40, "labelFontSize": 7, "labelColor": "#333", "labelExpr": "split(datum.value, '|')[1]", "tickSize": 4, "tickColor": "#999", "tickWidth": 1.2, "domainColor": "#999", "domainWidth": 1.5, "labelPadding": 1, "labelOverlap": false}},
"y": {"field": "v", "type": "quantitative", "title": "Ψ", "scale": {"domain": [0, 1.5], "nice": false, "zero": false}, "axis": {"titleFont": "DejaVu Sans", "titleFontSize": 11, "titleFontWeight": "normal", "titleColor": "#333", "titlePadding": 5, "labelFontSize": 7.5, "labelColor": "#333", "labelPadding": 2, "tickSize": 4, "tickColor": "#999", "tickWidth": 1.2, "domainColor": "#999", "domainWidth": 1.5, "grid": false, "labelOverlap": false, "values": [0, 0.5, 1.0, 1.5], "format": ".1f"}},
"color": {"field": "g", "type": "nominal", "scale": {"domain": ["DM1", "non-DM1"], "range": ["#111111", "#6b8cf2"]}, "legend": null}}},
{"data": {"name": "B"}, "transform": [{"filter": "datum.p == 'FN1'"}], "mark": {"type": "tick", "size": 14, "thickness": 1.2},
"encoding": {"x": {"field": "c", "type": "nominal", "title": null}, "y": {"aggregate": "mean", "field": "v", "type": "quantitative", "title": "Ψ", "axis": {"titleFont": "DejaVu Sans", "titleFontSize": 11, "titleFontWeight": "normal", "titleColor": "#333", "titlePadding": 5, "labelFontSize": 7.5, "labelColor": "#333", "labelPadding": 2, "tickSize": 4, "tickColor": "#999", "tickWidth": 1.2, "domainColor": "#999", "domainWidth": 1.5, "grid": false, "labelOverlap": false, "values": [0, 0.5, 1.0, 1.5], "format": ".1f"}}, "color": {"field": "g", "type": "nominal", "scale": {"domain": ["DM1", "non-DM1"], "range": ["#111111", "#6b8cf2"]}, "legend": null}}},
{"data": {"name": "B"}, "transform": [{"filter": "datum.p == 'FN1'"}], "mark": {"type": "point", "filled": true, "size": 16, "opacity": 1},
"encoding": {"x": {"field": "c", "type": "nominal", "title": null}, "xOffset": {"field": "r", "type": "nominal", "scale": {"type": "point", "range": [5, 17.3], "domain": [4, 2, 1, 3, 5]}}, "y": {"field": "v", "type": "quantitative", "title": "Ψ", "axis": {"titleFont": "DejaVu Sans", "titleFontSize": 11, "titleFontWeight": "normal", "titleColor": "#333", "titlePadding": 5, "labelFontSize": 7.5, "labelColor": "#333", "labelPadding": 2, "tickSize": 4, "tickColor": "#999", "tickWidth": 1.2, "domainColor": "#999", "domainWidth": 1.5, "grid": false, "labelOverlap": false, "values": [0, 0.5, 1.0, 1.5], "format": ".1f"}}, "color": {"field": "g", "type": "nominal", "scale": {"domain": ["DM1", "non-DM1"], "range": ["#000000", "#1f4cff"]}, "legend": null}, "shape": {"field": "g", "type": "nominal", "scale": {"domain": ["DM1", "non-DM1"], "range": ["circle", "square"]}, "legend": null}}},
{"data": {"name": "H"}, "mark": {"type": "rule", "strokeWidth": 1.5, "color": "#888"},
"encoding": {"x": {"field": "a", "type": "nominal", "title": null}, "x2": {"field": "b"}, "y": {"datum": 1.5, "title": "Ψ", "axis": {"titleFont": "DejaVu Sans", "titleFontSize": 11, "titleFontWeight": "normal", "titleColor": "#333", "titlePadding": 5, "labelFontSize": 7.5, "labelColor": "#333", "labelPadding": 2, "tickSize": 4, "tickColor": "#999", "tickWidth": 1.2, "domainColor": "#999", "domainWidth": 1.5, "grid": false, "labelOverlap": false, "values": [0, 0.5, 1.0, 1.5], "format": ".1f"}}}},
{"data": {"name": "H"}, "mark": {"type": "text", "fontSize": 8, "baseline": "bottom", "dy": -1, "dx": -11, "color": "#333"},
"encoding": {"x": {"field": "b", "type": "nominal", "title": null}, "y": {"datum": 1.5, "title": "Ψ", "axis": {"titleFont": "DejaVu Sans", "titleFontSize": 11, "titleFontWeight": "normal", "titleColor": "#333", "titlePadding": 5, "labelFontSize": 7.5, "labelColor": "#333", "labelPadding": 2, "tickSize": 4, "tickColor": "#999", "tickWidth": 1.2, "domainColor": "#999", "domainWidth": 1.5, "grid": false, "labelOverlap": false, "values": [0, 0.5, 1.0, 1.5], "format": ".1f"}}, "text": {"field": "st"}}}
]},
{"width": 134, "height": 87, "title": {"text": "GOLGA4 ex23", "offset": 3}, "resolve": {"scale": {"color": "independent"}},
"layer": [
{"data": {"name": "B"}, "transform": [{"filter": "datum.p == 'GOLGA4'"}], "mark": {"type": "errorbar", "extent": "stderr", "thickness": 1.2, "ticks": {"size": 8}},
"encoding": {"x": {"field": "c", "type": "nominal", "title": null, "scale": {"domain": ["SC|DM1", "SC|non-DM1", "MB|DM1", "MB|non-DM1", "MT|DM1", "MT|non-DM1"], "paddingInner": 0, "paddingOuter": 0}, "axis": {"labelAngle": -40, "labelFontSize": 7, "labelColor": "#333", "labelExpr": "split(datum.value, '|')[1]", "tickSize": 4, "tickColor": "#999", "tickWidth": 1.2, "domainColor": "#999", "domainWidth": 1.5, "labelPadding": 1, "labelOverlap": false}},
"y": {"field": "v", "type": "quantitative", "title": "Ψ", "scale": {"domain": [0, 1.5], "nice": false, "zero": false}, "axis": {"titleFont": "DejaVu Sans", "titleFontSize": 11, "titleFontWeight": "normal", "titleColor": "#333", "titlePadding": 5, "labelFontSize": 7.5, "labelColor": "#333", "labelPadding": 2, "tickSize": 4, "tickColor": "#999", "tickWidth": 1.2, "domainColor": "#999", "domainWidth": 1.5, "grid": false, "labelOverlap": false, "values": [0, 0.5, 1.0, 1.5], "format": ".1f"}},
"color": {"field": "g", "type": "nominal", "scale": {"domain": ["DM1", "non-DM1"], "range": ["#111111", "#6b8cf2"]}, "legend": null}}},
{"data": {"name": "B"}, "transform": [{"filter": "datum.p == 'GOLGA4'"}], "mark": {"type": "tick", "size": 14, "thickness": 1.2},
"encoding": {"x": {"field": "c", "type": "nominal", "title": null}, "y": {"aggregate": "mean", "field": "v", "type": "quantitative", "title": "Ψ", "axis": {"titleFont": "DejaVu Sans", "titleFontSize": 11, "titleFontWeight": "normal", "titleColor": "#333", "titlePadding": 5, "labelFontSize": 7.5, "labelColor": "#333", "labelPadding": 2, "tickSize": 4, "tickColor": "#999", "tickWidth": 1.2, "domainColor": "#999", "domainWidth": 1.5, "grid": false, "labelOverlap": false, "values": [0, 0.5, 1.0, 1.5], "format": ".1f"}}, "color": {"field": "g", "type": "nominal", "scale": {"domain": ["DM1", "non-DM1"], "range": ["#111111", "#6b8cf2"]}, "legend": null}}},
{"data": {"name": "B"}, "transform": [{"filter": "datum.p == 'GOLGA4'"}], "mark": {"type": "point", "filled": true, "size": 16, "opacity": 1},
"encoding": {"x": {"field": "c", "type": "nominal", "title": null}, "xOffset": {"field": "r", "type": "nominal", "scale": {"type": "point", "range": [5, 17.3], "domain": [4, 2, 1, 3, 5]}}, "y": {"field": "v", "type": "quantitative", "title": "Ψ", "axis": {"titleFont": "DejaVu Sans", "titleFontSize": 11, "titleFontWeight": "normal", "titleColor": "#333", "titlePadding": 5, "labelFontSize": 7.5, "labelColor": "#333", "labelPadding": 2, "tickSize": 4, "tickColor": "#999", "tickWidth": 1.2, "domainColor": "#999", "domainWidth": 1.5, "grid": false, "labelOverlap": false, "values": [0, 0.5, 1.0, 1.5], "format": ".1f"}}, "color": {"field": "g", "type": "nominal", "scale": {"domain": ["DM1", "non-DM1"], "range": ["#000000", "#1f4cff"]}, "legend": null}, "shape": {"field": "g", "type": "nominal", "scale": {"domain": ["DM1", "non-DM1"], "range": ["circle", "square"]}, "legend": null}}},
{"data": {"name": "H"}, "mark": {"type": "rule", "strokeWidth": 1.5, "color": "#888"},
"encoding": {"x": {"field": "a", "type": "nominal", "title": null}, "x2": {"field": "b"}, "y": {"datum": 1.5, "title": "Ψ", "axis": {"titleFont": "DejaVu Sans", "titleFontSize": 11, "titleFontWeight": "normal", "titleColor": "#333", "titlePadding": 5, "labelFontSize": 7.5, "labelColor": "#333", "labelPadding": 2, "tickSize": 4, "tickColor": "#999", "tickWidth": 1.2, "domainColor": "#999", "domainWidth": 1.5, "grid": false, "labelOverlap": false, "values": [0, 0.5, 1.0, 1.5], "format": ".1f"}}}},
{"data": {"name": "H"}, "mark": {"type": "text", "fontSize": 8, "baseline": "bottom", "dy": -1, "dx": -11, "color": "#333"},
"encoding": {"x": {"field": "b", "type": "nominal", "title": null}, "y": {"datum": 1.5, "title": "Ψ", "axis": {"titleFont": "DejaVu Sans", "titleFontSize": 11, "titleFontWeight": "normal", "titleColor": "#333", "titlePadding": 5, "labelFontSize": 7.5, "labelColor": "#333", "labelPadding": 2, "tickSize": 4, "tickColor": "#999", "tickWidth": 1.2, "domainColor": "#999", "domainWidth": 1.5, "grid": false, "labelOverlap": false, "values": [0, 0.5, 1.0, 1.5], "format": ".1f"}}, "text": {"field": "st"}}}
]},
{"width": 134, "height": 87, "title": {"text": "NCOR2 ex45", "offset": 3}, "resolve": {"scale": {"color": "independent"}},
"layer": [
{"data": {"name": "B"}, "transform": [{"filter": "datum.p == 'NCOR2b'"}], "mark": {"type": "errorbar", "extent": "stderr", "thickness": 1.2, "ticks": {"size": 8}},
"encoding": {"x": {"field": "c", "type": "nominal", "title": null, "scale": {"domain": ["SC|DM1", "SC|non-DM1", "MB|DM1", "MB|non-DM1", "MT|DM1", "MT|non-DM1"], "paddingInner": 0, "paddingOuter": 0}, "axis": {"labelAngle": -40, "labelFontSize": 7, "labelColor": "#333", "labelExpr": "split(datum.value, '|')[1]", "tickSize": 4, "tickColor": "#999", "tickWidth": 1.2, "domainColor": "#999", "domainWidth": 1.5, "labelPadding": 1, "labelOverlap": false}},
"y": {"field": "v", "type": "quantitative", "title": "Ψ", "scale": {"domain": [0.4, 1.2], "nice": false, "zero": false}, "axis": {"titleFont": "DejaVu Sans", "titleFontSize": 11, "titleFontWeight": "normal", "titleColor": "#333", "titlePadding": 5, "labelFontSize": 7.5, "labelColor": "#333", "labelPadding": 2, "tickSize": 4, "tickColor": "#999", "tickWidth": 1.2, "domainColor": "#999", "domainWidth": 1.5, "grid": false, "labelOverlap": false, "values": [0.4, 0.6, 0.8, 1.0, 1.2], "format": ".1f"}},
"color": {"field": "g", "type": "nominal", "scale": {"domain": ["DM1", "non-DM1"], "range": ["#111111", "#6b8cf2"]}, "legend": null}}},
{"data": {"name": "B"}, "transform": [{"filter": "datum.p == 'NCOR2b'"}], "mark": {"type": "tick", "size": 14, "thickness": 1.2},
"encoding": {"x": {"field": "c", "type": "nominal", "title": null}, "y": {"aggregate": "mean", "field": "v", "type": "quantitative", "title": "Ψ", "axis": {"titleFont": "DejaVu Sans", "titleFontSize": 11, "titleFontWeight": "normal", "titleColor": "#333", "titlePadding": 5, "labelFontSize": 7.5, "labelColor": "#333", "labelPadding": 2, "tickSize": 4, "tickColor": "#999", "tickWidth": 1.2, "domainColor": "#999", "domainWidth": 1.5, "grid": false, "labelOverlap": false, "values": [0.4, 0.6, 0.8, 1.0, 1.2], "format": ".1f"}}, "color": {"field": "g", "type": "nominal", "scale": {"domain": ["DM1", "non-DM1"], "range": ["#111111", "#6b8cf2"]}, "legend": null}}},
{"data": {"name": "B"}, "transform": [{"filter": "datum.p == 'NCOR2b'"}], "mark": {"type": "point", "filled": true, "size": 16, "opacity": 1},
"encoding": {"x": {"field": "c", "type": "nominal", "title": null}, "xOffset": {"field": "r", "type": "nominal", "scale": {"type": "point", "range": [5, 17.3], "domain": [4, 2, 1, 3, 5]}}, "y": {"field": "v", "type": "quantitative", "title": "Ψ", "axis": {"titleFont": "DejaVu Sans", "titleFontSize": 11, "titleFontWeight": "normal", "titleColor": "#333", "titlePadding": 5, "labelFontSize": 7.5, "labelColor": "#333", "labelPadding": 2, "tickSize": 4, "tickColor": "#999", "tickWidth": 1.2, "domainColor": "#999", "domainWidth": 1.5, "grid": false, "labelOverlap": false, "values": [0.4, 0.6, 0.8, 1.0, 1.2], "format": ".1f"}}, "color": {"field": "g", "type": "nominal", "scale": {"domain": ["DM1", "non-DM1"], "range": ["#000000", "#1f4cff"]}, "legend": null}, "shape": {"field": "g", "type": "nominal", "scale": {"domain": ["DM1", "non-DM1"], "range": ["circle", "square"]}, "legend": null}}},
{"data": {"name": "H"}, "mark": {"type": "rule", "strokeWidth": 1.5, "color": "#888"},
"encoding": {"x": {"field": "a", "type": "nominal", "title": null}, "x2": {"field": "b"}, "y": {"datum": 1.2, "title": "Ψ", "axis": {"titleFont": "DejaVu Sans", "titleFontSize": 11, "titleFontWeight": "normal", "titleColor": "#333", "titlePadding": 5, "labelFontSize": 7.5, "labelColor": "#333", "labelPadding": 2, "tickSize": 4, "tickColor": "#999", "tickWidth": 1.2, "domainColor": "#999", "domainWidth": 1.5, "grid": false, "labelOverlap": false, "values": [0.4, 0.6, 0.8, 1.0, 1.2], "format": ".1f"}}}},
{"data": {"name": "H"}, "mark": {"type": "text", "fontSize": 8, "baseline": "bottom", "dy": -1, "dx": -11, "color": "#333"},
"encoding": {"x": {"field": "b", "type": "nominal", "title": null}, "y": {"datum": 1.2, "title": "Ψ", "axis": {"titleFont": "DejaVu Sans", "titleFontSize": 11, "titleFontWeight": "normal", "titleColor": "#333", "titlePadding": 5, "labelFontSize": 7.5, "labelColor": "#333", "labelPadding": 2, "tickSize": 4, "tickColor": "#999", "tickWidth": 1.2, "domainColor": "#999", "domainWidth": 1.5, "grid": false, "labelOverlap": false, "values": [0.4, 0.6, 0.8, 1.0, 1.2], "format": ".1f"}}, "text": {"field": "st"}}}
]},
{"width": 134, "height": 87, "title": {"text": "HOOK3 ex2", "offset": 3}, "resolve": {"scale": {"color": "independent"}},
"layer": [
{"data": {"name": "B"}, "transform": [{"filter": "datum.p == 'HOOK3'"}], "mark": {"type": "errorbar", "extent": "stderr", "thickness": 1.2, "ticks": {"size": 8}},
"encoding": {"x": {"field": "c", "type": "nominal", "title": null, "scale": {"domain": ["SC|DM1", "SC|non-DM1", "MB|DM1", "MB|non-DM1", "MT|DM1", "MT|non-DM1"], "paddingInner": 0, "paddingOuter": 0}, "axis": {"labelAngle": -40, "labelFontSize": 7, "labelColor": "#333", "labelExpr": "split(datum.value, '|')[1]", "tickSize": 4, "tickColor": "#999", "tickWidth": 1.2, "domainColor": "#999", "domainWidth": 1.5, "labelPadding": 1, "labelOverlap": false}},
"y": {"field": "v", "type": "quantitative", "title": "Ψ", "scale": {"domain": [0, 1.0], "nice": false, "zero": false}, "axis": {"titleFont": "DejaVu Sans", "titleFontSize": 11, "titleFontWeight": "normal", "titleColor": "#333", "titlePadding": 5, "labelFontSize": 7.5, "labelColor": "#333", "labelPadding": 2, "tickSize": 4, "tickColor": "#999", "tickWidth": 1.2, "domainColor": "#999", "domainWidth": 1.5, "grid": false, "labelOverlap": false, "values": [0, 0.2, 0.4, 0.6, 0.8, 1.0], "format": ".1f"}},
"color": {"field": "g", "type": "nominal", "scale": {"domain": ["DM1", "non-DM1"], "range": ["#111111", "#6b8cf2"]}, "legend": null}}},
{"data": {"name": "B"}, "transform": [{"filter": "datum.p == 'HOOK3'"}], "mark": {"type": "tick", "size": 14, "thickness": 1.2},
"encoding": {"x": {"field": "c", "type": "nominal", "title": null}, "y": {"aggregate": "mean", "field": "v", "type": "quantitative", "title": "Ψ", "axis": {"titleFont": "DejaVu Sans", "titleFontSize": 11, "titleFontWeight": "normal", "titleColor": "#333", "titlePadding": 5, "labelFontSize": 7.5, "labelColor": "#333", "labelPadding": 2, "tickSize": 4, "tickColor": "#999", "tickWidth": 1.2, "domainColor": "#999", "domainWidth": 1.5, "grid": false, "labelOverlap": false, "values": [0, 0.2, 0.4, 0.6, 0.8, 1.0], "format": ".1f"}}, "color": {"field": "g", "type": "nominal", "scale": {"domain": ["DM1", "non-DM1"], "range": ["#111111", "#6b8cf2"]}, "legend": null}}},
{"data": {"name": "B"}, "transform": [{"filter": "datum.p == 'HOOK3'"}], "mark": {"type": "point", "filled": true, "size": 16, "opacity": 1},
"encoding": {"x": {"field": "c", "type": "nominal", "title": null}, "xOffset": {"field": "r", "type": "nominal", "scale": {"type": "point", "range": [5, 17.3], "domain": [4, 2, 1, 3, 5]}}, "y": {"field": "v", "type": "quantitative", "title": "Ψ", "axis": {"titleFont": "DejaVu Sans", "titleFontSize": 11, "titleFontWeight": "normal", "titleColor": "#333", "titlePadding": 5, "labelFontSize": 7.5, "labelColor": "#333", "labelPadding": 2, "tickSize": 4, "tickColor": "#999", "tickWidth": 1.2, "domainColor": "#999", "domainWidth": 1.5, "grid": false, "labelOverlap": false, "values": [0, 0.2, 0.4, 0.6, 0.8, 1.0], "format": ".1f"}}, "color": {"field": "g", "type": "nominal", "scale": {"domain": ["DM1", "non-DM1"], "range": ["#000000", "#1f4cff"]}, "legend": null}, "shape": {"field": "g", "type": "nominal", "scale": {"domain": ["DM1", "non-DM1"], "range": ["circle", "square"]}, "legend": null}}},
{"data": {"name": "H"}, "mark": {"type": "rule", "strokeWidth": 1.5, "color": "#888"},
"encoding": {"x": {"field": "a", "type": "nominal", "title": null}, "x2": {"field": "b"}, "y": {"datum": 1.0, "title": "Ψ", "axis": {"titleFont": "DejaVu Sans", "titleFontSize": 11, "titleFontWeight": "normal", "titleColor": "#333", "titlePadding": 5, "labelFontSize": 7.5, "labelColor": "#333", "labelPadding": 2, "tickSize": 4, "tickColor": "#999", "tickWidth": 1.2, "domainColor": "#999", "domainWidth": 1.5, "grid": false, "labelOverlap": false, "values": [0, 0.2, 0.4, 0.6, 0.8, 1.0], "format": ".1f"}}}},
{"data": {"name": "H"}, "mark": {"type": "text", "fontSize": 8, "baseline": "bottom", "dy": -1, "dx": -11, "color": "#333"},
"encoding": {"x": {"field": "b", "type": "nominal", "title": null}, "y": {"datum": 1.0, "title": "Ψ", "axis": {"titleFont": "DejaVu Sans", "titleFontSize": 11, "titleFontWeight": "normal", "titleColor": "#333", "titlePadding": 5, "labelFontSize": 7.5, "labelColor": "#333", "labelPadding": 2, "tickSize": 4, "tickColor": "#999", "tickWidth": 1.2, "domainColor": "#999", "domainWidth": 1.5, "grid": false, "labelOverlap": false, "values": [0, 0.2, 0.4, 0.6, 0.8, 1.0], "format": ".1f"}}, "text": {"field": "st"}}}
]}
]}
]}
]
}
]
}
